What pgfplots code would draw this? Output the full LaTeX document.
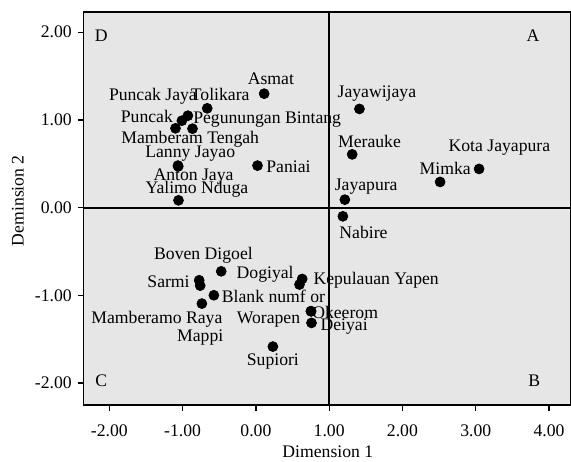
\documentclass[border=0pt]{standalone}
\usepackage{pgfplots}
\pgfplotsset{compat=1.18}
\usepackage{fontspec}
\setmainfont{Liberation Serif}
\definecolor{panel}{RGB}{230,230,230}

\begin{document}
\begin{tikzpicture}[font=\fontsize{10.6}{12}\selectfont]
\path[use as bounding box] (-50.2pt,-33.6pt) rectangle (292.4pt,243pt);
\begin{axis}[
    scale only axis,
    width=292.4pt, height=235.8pt,
    xmin=-2.35, xmax=4.30,
    ymin=-2.25, ymax=2.23,
    xtick={-2,-1,0,1,2,3,4},
    ytick={-2,-1,0,1,2},
    tick align=outside,
    tick pos=left,
    major tick length=3.6pt,
    tick style={black, line width=0.8pt},
    axis line style={line width=0.9pt},
    axis background/.style={fill=panel},
    xticklabel style={yshift=-5pt},
    /pgf/number format/assume math mode=true,
    /pgf/number format/.cd, fixed, zerofill, precision=2, /pgfplots/.cd,
    xlabel={Dimension 1},
    ylabel={Deminsion 2},
    every axis x label/.style={at={(axis description cs:0.501,-0.12)}, anchor=center},
    every axis y label/.style={at={(axis description cs:-0.135,0.52)}, rotate=90, anchor=center},
    clip=false,
]
% quadrant dividers
\addplot[black, line width=1.1pt] coordinates {(1,-2.25) (1,2.23)};
\addplot[black, line width=1.1pt] coordinates {(-2.35,0) (4.30,0)};

% regencies
\addplot[only marks, mark=*, mark size=3pt, black] coordinates {
    (0.113,1.299)   % Asmat
    (-0.664,1.132)  % Tolikara
    (-0.928,1.048)  % Puncak Jaya
    (-1.010,0.991)  % Puncak
    (-1.097,0.904)  % Mamberam Tengah
    (-0.865,0.900)  % Pegunungan Bintang
    (-1.064,0.479)  % Lanny Jayao
    (-1.060,0.470)  % Anton Jaya
    (0.022,0.479)   % Paniai
    (-1.056,0.083)  % Yalimo Nduga
    (1.413,1.125)   % Jayawijaya
    (1.314,0.607)   % Merauke
    (3.046,0.441)   % Kota Jayapura
    (2.514,0.293)   % Mimka
    (1.214,0.091)   % Jayapura
    (1.187,-0.099)  % Nabire
    (-0.473,-0.726) % Boven Digoel
    (-0.774,-0.828) % Sarmi
    (-0.760,-0.889) % Mappi
    (-0.573,-0.999) % Blank numf or
    (-0.737,-1.094) % Mamberamo Raya
    (0.595,-0.877)  % Dogiyal
    (0.632,-0.813)  % Kepulauan Yapen
    (0.754,-1.182)  % Okeerom
    (0.750,-1.180)  % Worapen
    (0.759,-1.314)  % Deiyai
    (0.232,-1.584)  % Supiori
};

\node at (axis cs:0.205,1.467) {Asmat};
\node at (axis cs:-0.487,1.288) {Tolikara};
\node at (axis cs:-1.405,1.268) {Puncak Jaya};
\node at (axis cs:-1.487,1.040) {Puncak};
\node at (axis cs:0.154,1.003) {Pegunungan Bintang};
\node at (axis cs:-0.896,0.783) {Mamberam Tengah};
\node at (axis cs:-0.896,0.615) {Lanny Jayao};
\node at (axis cs:0.445,0.471) {Paniai};
\node at (axis cs:-0.851,0.357) {Anton Jaya};
\node at (axis cs:-0.805,0.205) {Yalimo Nduga};
\node at (axis cs:1.651,1.299) {Jayawijaya};
\node at (axis cs:1.550,0.760) {Merauke};
\node at (axis cs:3.323,0.684) {Kota Jayapura};
\node at (axis cs:2.583,0.452) {Mimka};
\node at (axis cs:1.505,0.236) {Jayapura};
\node at (axis cs:1.468,-0.288) {Nabire};
\node at (axis cs:-0.715,-0.547) {Boven Digoel};
\node at (axis cs:-1.192,-0.840) {Sarmi};
\node at (axis cs:0.127,-0.764) {Dogiyal};
\node at (axis cs:1.641,-0.832) {Kepulauan Yapen};
\node at (axis cs:0.240,-1.011) {Blank numf or};
\node at (axis cs:-1.351,-1.276) {Mamberamo Raya};
\node at (axis cs:0.172,-1.276) {Worapen};
\node at (axis cs:1.218,-1.197) {Okeerom};
\node at (axis cs:1.205,-1.356) {Deiyai};
\node at (axis cs:-0.760,-1.485) {Mappi};
\node at (axis cs:0.232,-1.752) {Supiori};

\node at (axis cs:-2.111,1.960) {D};
\node at (axis cs:3.783,1.960) {A};
\node at (axis cs:-2.111,-1.979) {C};
\node at (axis cs:3.797,-1.979) {B};
\end{axis}
\end{tikzpicture}
\end{document}
